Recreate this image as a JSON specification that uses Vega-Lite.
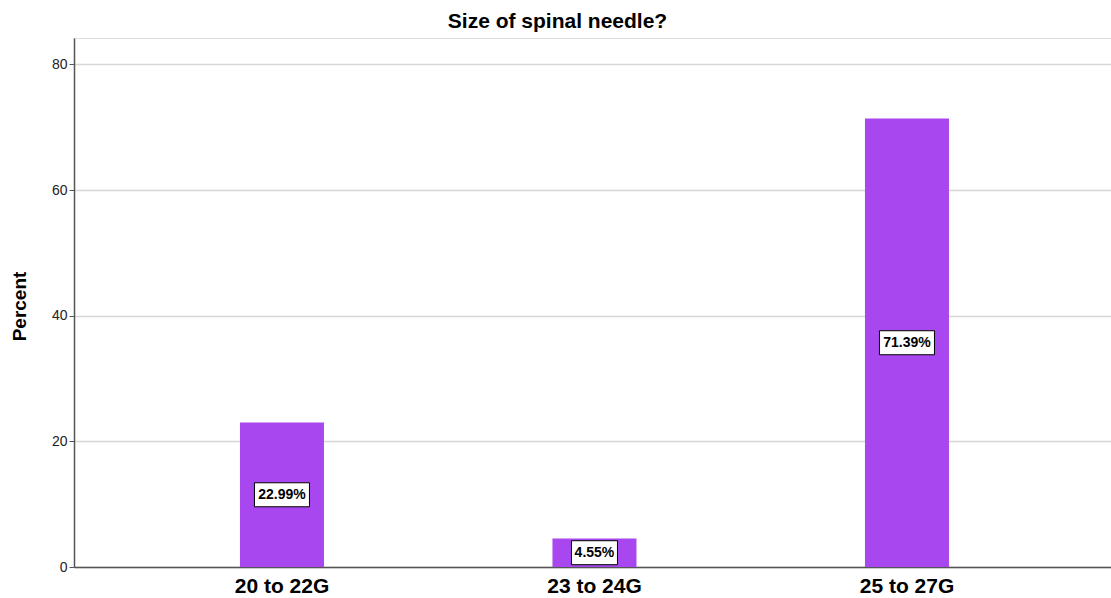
{
  "$schema": "https://vega.github.io/schema/vega-lite/v6.json",
  "width": 1037,
  "height": 529,
  "autosize": {"type": "none"},
  "padding": {"left": 74, "top": 38, "right": 0, "bottom": 31},
  "background": "white",
  "title": {
    "text": "Size of spinal needle?",
    "anchor": "middle",
    "dx": -35,
    "offset": 6,
    "font": "Liberation Sans",
    "fontSize": 21,
    "fontWeight": "bold",
    "color": "#000000"
  },
  "data": {
    "values": [
      {"cat": "20 to 22G", "pct": 22.99, "label": "22.99%"},
      {"cat": "23 to 24G", "pct": 4.55, "label": "4.55%"},
      {"cat": "25 to 27G", "pct": 71.39, "label": "71.39%"}
    ]
  },
  "transform": [{"calculate": "datum.pct / 2", "as": "mid"}],
  "encoding": {
    "x": {
      "field": "cat",
      "type": "nominal",
      "sort": null,
      "scale": {"paddingInner": 0.7312, "paddingOuter": 0.5248, "align": 0.506},
      "axis": {
        "title": null,
        "labelAngle": 0,
        "ticks": false,
        "domainColor": "#555555",
        "domainWidth": 1.5,
        "labelFont": "Liberation Sans",
        "labelFontSize": 21,
        "labelFontWeight": "bold",
        "labelColor": "#000000",
        "labelPadding": 8
      }
    }
  },
  "layer": [
    {
      "mark": {"type": "bar", "color": "#a846f0"},
      "encoding": {
        "y": {
          "field": "pct",
          "type": "quantitative",
          "title": "Percent",
          "scale": {"domain": [0, 84.2], "nice": false, "zero": true},
          "axis": {
            "values": [0, 20, 40, 60, 80],
            "grid": true,
            "gridColor": "#d6d6d6",
            "gridWidth": 1.5,
            "domainColor": "#555555",
            "domainWidth": 1.5,
            "tickColor": "#555555",
            "tickSize": 5,
            "labelPadding": 2,
            "labelFont": "Liberation Sans",
            "labelFontSize": 14,
            "labelColor": "#222222",
            "titleFont": "Liberation Sans",
            "titleFontSize": 19,
            "titleFontWeight": "bold",
            "titleColor": "#000000",
            "titleAngle": -90,
            "titleBaseline": "middle",
            "titleAlign": "center",
            "titleX": -55,
            "titleY": 268
          }
        }
      }
    },
    {
      "mark": {
        "type": "point",
        "filled": true,
        "fill": "white",
        "stroke": "black",
        "strokeWidth": 1,
        "opacity": 1,
        "size": 4
      },
      "encoding": {
        "y": {"field": "mid", "type": "quantitative", "title": "Percent"},
        "shape": {
          "field": "cat",
          "type": "nominal",
          "legend": null,
          "scale": {
            "domain": ["20 to 22G", "23 to 24G", "25 to 27G"],
            "range": [
              "M-27.5,-12H27.5V12H-27.5Z",
              "M-23,-12H23V12H-23Z",
              "M-27.5,-12H27.5V12H-27.5Z"
            ]
          }
        }
      }
    },
    {
      "mark": {
        "type": "text",
        "font": "Liberation Sans",
        "fontSize": 14,
        "fontWeight": "bold",
        "color": "#000000",
        "baseline": "middle",
        "align": "center"
      },
      "encoding": {
        "y": {"field": "mid", "type": "quantitative", "title": "Percent"},
        "text": {"field": "label"}
      }
    }
  ]
}
